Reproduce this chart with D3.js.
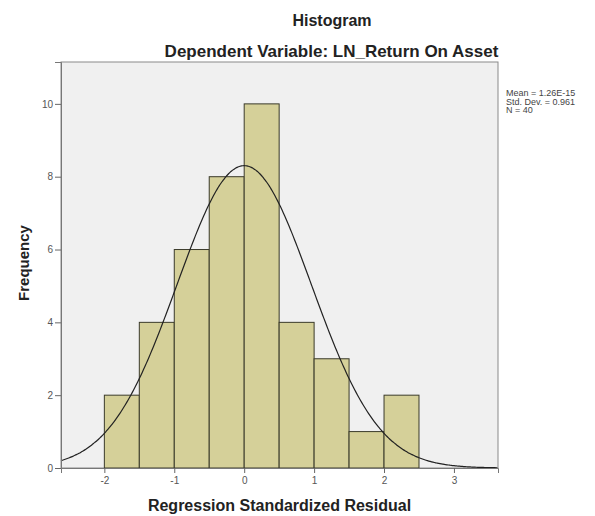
<!DOCTYPE html>
<html>
  <head lang="en">
    <meta charset="utf-8">
    <title>Histogram</title>
    <script type="text/javascript" src="https://cdn.jsdelivr.net/npm/d3@7"></script>
    <style>
      body { margin: 0; background: #fff; }
      text { font-family: "Liberation Sans", Arial, sans-serif; }
    </style>
  </head>
  <body>
    <script type="text/javascript">

      // bins of the regression standardized residual (lower edges, width 0.5)
      var binStarts = [-2, -1.5, -1, -0.5, 0, 0.5, 1, 1.5, 2];
      var binWidth = 0.5;
      var counts = [2, 4, 6, 8, 10, 4, 3, 1, 2];

      // axis ticks
      var xTicks = [-2, -1, 0, 1, 2, 3];
      var yTicks = [0, 2, 4, 6, 8, 10];

      // stats shown at the right
      var statMean = 1.26e-15;
      var statSd = 0.961;
      var statN = 40;
      var statLines = ["Mean = 1.26E-15", "Std. Dev. = 0.961", "N = 40"];

      // svg size and plot margins
      var width = 595, height = 516;
      var margin = {top: 62, right: 97, bottom: 48, left: 61};
      var plotW = width - margin.left - margin.right;
      var plotH = height - margin.top - margin.bottom;

      var svg = d3.select("body")
                  .append("svg")
                  .attr("width", width)
                  .attr("height", height);

      var g = svg.append("g")
                 .attr("transform", "translate(" + margin.left + "," + margin.top + ")");

      // scales
      var x = d3.scaleLinear().domain([-2.62, 3.63]).range([0, plotW]);
      var y = d3.scaleLinear().domain([0, 11.15]).range([plotH, 0]);

      // plot background
      g.append("rect")
       .attr("width", plotW)
       .attr("height", plotH)
       .attr("fill", "#f0f0f0")
       .attr("stroke", "#8a8a8a")
       .attr("stroke-width", 1);

      // bars
      g.selectAll("rect.bar")
       .data(counts)
       .enter()
       .append("rect")
       .attr("class", "bar")
       .attr("x", function(d, i) { return x(binStarts[i]); })
       .attr("y", function(d) { return y(d); })
       .attr("width", function(d, i) { return x(binStarts[i] + binWidth) - x(binStarts[i]); })
       .attr("height", function(d) { return plotH - y(d); })
       .attr("fill", "#d5d099")
       .attr("stroke", "#3a3a2a")
       .attr("stroke-width", 1);

      // normal curve from mean, sd and N
      var curveX = d3.range(x.domain()[0], x.domain()[1] + 0.001, 0.02);
      var normal = function(v) {
        var z = (v - statMean) / statSd;
        return statN * binWidth * Math.exp(-0.5 * z * z) / (statSd * Math.sqrt(2 * Math.PI));
      };
      var line = d3.line()
                   .x(function(d) { return x(d); })
                   .y(function(d) { return y(normal(d)); })
                   .curve(d3.curveBasis);
      g.append("path")
       .datum(curveX)
       .attr("d", line)
       .attr("fill", "none")
       .attr("stroke", "#222")
       .attr("stroke-width", 1.2);

      // axes (plain hyphen for negatives like the original)
      var plain = function(d) { return String(d); };
      var xAxis = g.append("g")
                   .attr("transform", "translate(0," + plotH + ")")
                   .call(d3.axisBottom(x).tickValues(xTicks).tickFormat(plain)
                           .tickSize(5).tickPadding(4));
      var yAxis = g.append("g")
                   .call(d3.axisLeft(y).tickValues(yTicks).tickFormat(plain)
                           .tickSize(6).tickPadding(2));

      [xAxis, yAxis].forEach(function(a) {
        a.select(".domain").attr("stroke", "#777");
        a.selectAll(".tick line").attr("stroke", "#666");
        a.selectAll(".tick text")
         .attr("fill", "#555")
         .style("font-size", "10px")
         .style("font-family", "Liberation Sans, Arial, sans-serif");
      });

      // titles
      svg.append("text")
         .attr("x", 332).attr("y", 26)
         .attr("text-anchor", "middle")
         .style("font-size", "16px").style("font-weight", "bold")
         .attr("fill", "#222")
         .text("Histogram");

      svg.append("text")
         .attr("x", 331.5).attr("y", 57)
         .attr("text-anchor", "middle")
         .style("font-size", "17px").style("font-weight", "bold")
         .attr("fill", "#222")
         .text("Dependent Variable: LN_Return On Asset");

      svg.append("text")
         .attr("x", margin.left + plotW / 2).attr("y", 511)
         .attr("text-anchor", "middle")
         .style("font-size", "16px").style("font-weight", "bold")
         .attr("fill", "#222")
         .text("Regression Standardized Residual");

      svg.append("text")
         .attr("transform", "translate(29," + (margin.top + plotH / 2 - 2) + ") rotate(-90)")
         .attr("text-anchor", "middle")
         .style("font-size", "15px").style("font-weight", "bold")
         .attr("fill", "#222")
         .text("Frequency");

      // stats box text
      svg.selectAll("text.stat")
         .data(statLines)
         .enter()
         .append("text")
         .attr("class", "stat")
         .attr("x", 506)
         .attr("y", function(d, i) { return 96 + i * 8.5; })
         .style("font-size", "9px")
         .attr("fill", "#444")
         .text(function(d) { return d; });
    </script>
  </body>
</html>
